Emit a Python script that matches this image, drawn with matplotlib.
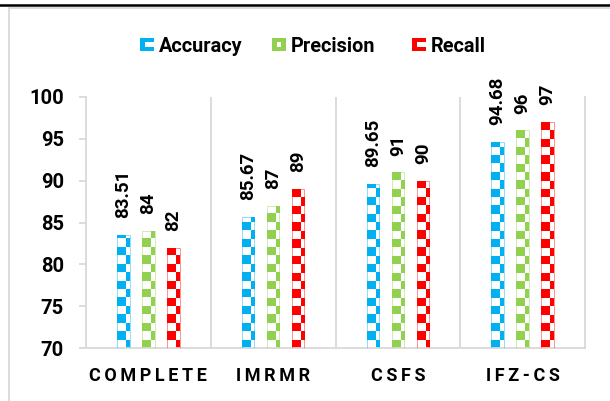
import numpy as np
import matplotlib
matplotlib.use("Agg")
import matplotlib.pyplot as plt
from matplotlib.colors import ListedColormap
from matplotlib.patches import Rectangle
from matplotlib.lines import Line2D

# ---- data ----
categories = ["COMPLETE", "IMRMR", "CSFS", "IFZ-CS"]
series_names = ["Accuracy", "Precision", "Recall"]
accuracy = [83.51, 85.67, 89.65, 94.68]
precision = [84, 87, 91, 96]
recall = [82, 89, 90, 97]
y_ticks = [70, 75, 80, 85, 90, 95, 100]

series_values = [accuracy, precision, recall]
colors = ["#00B0F0", "#92D050", "#FF0000"]

W, H = 610, 401
FONT = ["Roboto", "DejaVu Sans"]
GRID_GRAY = "#D9D9D9"
Y_MIN, Y_MAX = 70, 100

x = np.arange(len(categories))
bar_w = 0.1
offsets = [-0.2, 0.0, 0.2]
X_LIM = (-0.5, len(categories) - 0.5)

# checkerboard cell size in data units, anchored at the first bar's corner
CELL_X, CELL_Y = 1 / 15, 1.0
ANCHOR_X, ANCHOR_Y = offsets[0] - bar_w / 2, Y_MIN

fig = plt.figure(figsize=(W / 100, H / 100), dpi=100)
ax = fig.add_axes([86 / W, 1 - 348 / H, 499 / W, 251 / H])
ax.set_xlim(*X_LIM)
ax.set_ylim(Y_MIN, Y_MAX)
ax.set_autoscale_on(False)

c0 = int(np.floor((X_LIM[0] - ANCHOR_X) / CELL_X))
c1 = int(np.ceil((X_LIM[1] - ANCHOR_X) / CELL_X))
r0 = int(np.floor((Y_MIN - ANCHOR_Y) / CELL_Y))
r1 = int(np.ceil((Y_MAX - ANCHOR_Y) / CELL_Y))
rows = np.arange(r0, r1)
cols = np.arange(c0, c1)
checker = ((rows[:, None] + cols[None, :]) % 2 == 1).astype(float)
checker_extent = (ANCHOR_X + c0 * CELL_X, ANCHOR_X + c1 * CELL_X,
                  ANCHOR_Y + r0 * CELL_Y, ANCHOR_Y + r1 * CELL_Y)


def checker_fill(ax, patch, color):
    """Fill a bar with a two-colour checkerboard."""
    im = ax.imshow(checker, cmap=ListedColormap(["white", color]), vmin=0, vmax=1,
                   extent=checker_extent, origin="lower",
                   interpolation="nearest", aspect="auto", zorder=2)
    im.set_clip_path(patch)


for vals, off, col in zip(series_values, offsets, colors):
    vals = np.asarray(vals, dtype=float)
    bars = ax.bar(x + off, vals - Y_MIN, bottom=Y_MIN, width=bar_w,
                  facecolor="none", edgecolor=col, linewidth=0.6, alpha=0.5,
                  zorder=3)
    for b, v in zip(bars, vals):
        checker_fill(ax, b, col)
        ax.annotate(f"{v:g}", xy=(b.get_x() + b.get_width() / 2, v),
                    xytext=(0, 12), textcoords="offset points",
                    rotation=90, ha="center", va="bottom",
                    fontsize=13.5, fontweight="bold", family=FONT, color="black")

ax.set_xlim(*X_LIM)
ax.set_ylim(Y_MIN, Y_MAX)

# category separators
for sep in x[:-1] + 0.5:
    ax.axvline(sep, color=GRID_GRAY, linewidth=1.3, zorder=1)

for side in ["left", "right", "bottom"]:
    ax.spines[side].set_color(GRID_GRAY)
    ax.spines[side].set_linewidth(1.3)
ax.spines["top"].set_visible(False)

ax.set_yticks(y_ticks)
ax.set_yticklabels([str(t) for t in y_ticks], fontsize=14.5, fontweight="bold",
                   family=FONT)
ax.tick_params(axis="y", length=5, width=1.3, color=GRID_GRAY, pad=11)
ax.set_xticks(x)
ax.set_xticklabels(["\u2009".join(c) for c in categories], fontsize=13,
                   fontweight="bold", family=FONT)
ax.tick_params(axis="x", length=0, pad=14)

# ---- legend: small checker swatch + label per series ----
legend_marker_left = [140, 272, 412]   # pixels from the left edge
legend_y = 44.5                        # pixels from the top edge
swatch = 13.5
swatch_masks = [
    [[1, 1, 1], [1, 0, 0], [1, 1, 1]],
    [[1, 1, 1], [1, 0, 1], [1, 1, 1]],
    [[1, 1, 1], [1, 0, 0], [1, 1, 1]],
]
for name, col, mask, mx in zip(series_names, colors, swatch_masks,
                               legend_marker_left):
    mask = np.array(mask)
    n = mask.shape[0]
    c = swatch / n
    top = legend_y - swatch / 2
    for i in range(n):
        for j in range(n):
            if mask[i, j]:
                fig.add_artist(Rectangle(((mx + j * c) / W, 1 - (top + (i + 1) * c) / H),
                                         c / W, c / H, facecolor=col,
                                         edgecolor="none",
                                         transform=fig.transFigure))
    fig.text((mx + swatch + 5) / W, 1 - legend_y / H, name, ha="left",
             va="center_baseline", fontsize=14.3, fontweight="bold", family=FONT)

# outer frame lines
fig.add_artist(Line2D([0, 1], [1 - 4.5 / H, 1 - 4.5 / H], color="black",
                      linewidth=1.8, transform=fig.transFigure))
fig.add_artist(Line2D([9 / W, 9 / W], [0, 1 - 7.5 / H], color=GRID_GRAY,
                      linewidth=1.3, transform=fig.transFigure))
fig.add_artist(Line2D([9 / W, 1], [1 - 7.5 / H, 1 - 7.5 / H], color=GRID_GRAY,
                      linewidth=1.3, transform=fig.transFigure))

fig.savefig("out.png", dpi=100)
